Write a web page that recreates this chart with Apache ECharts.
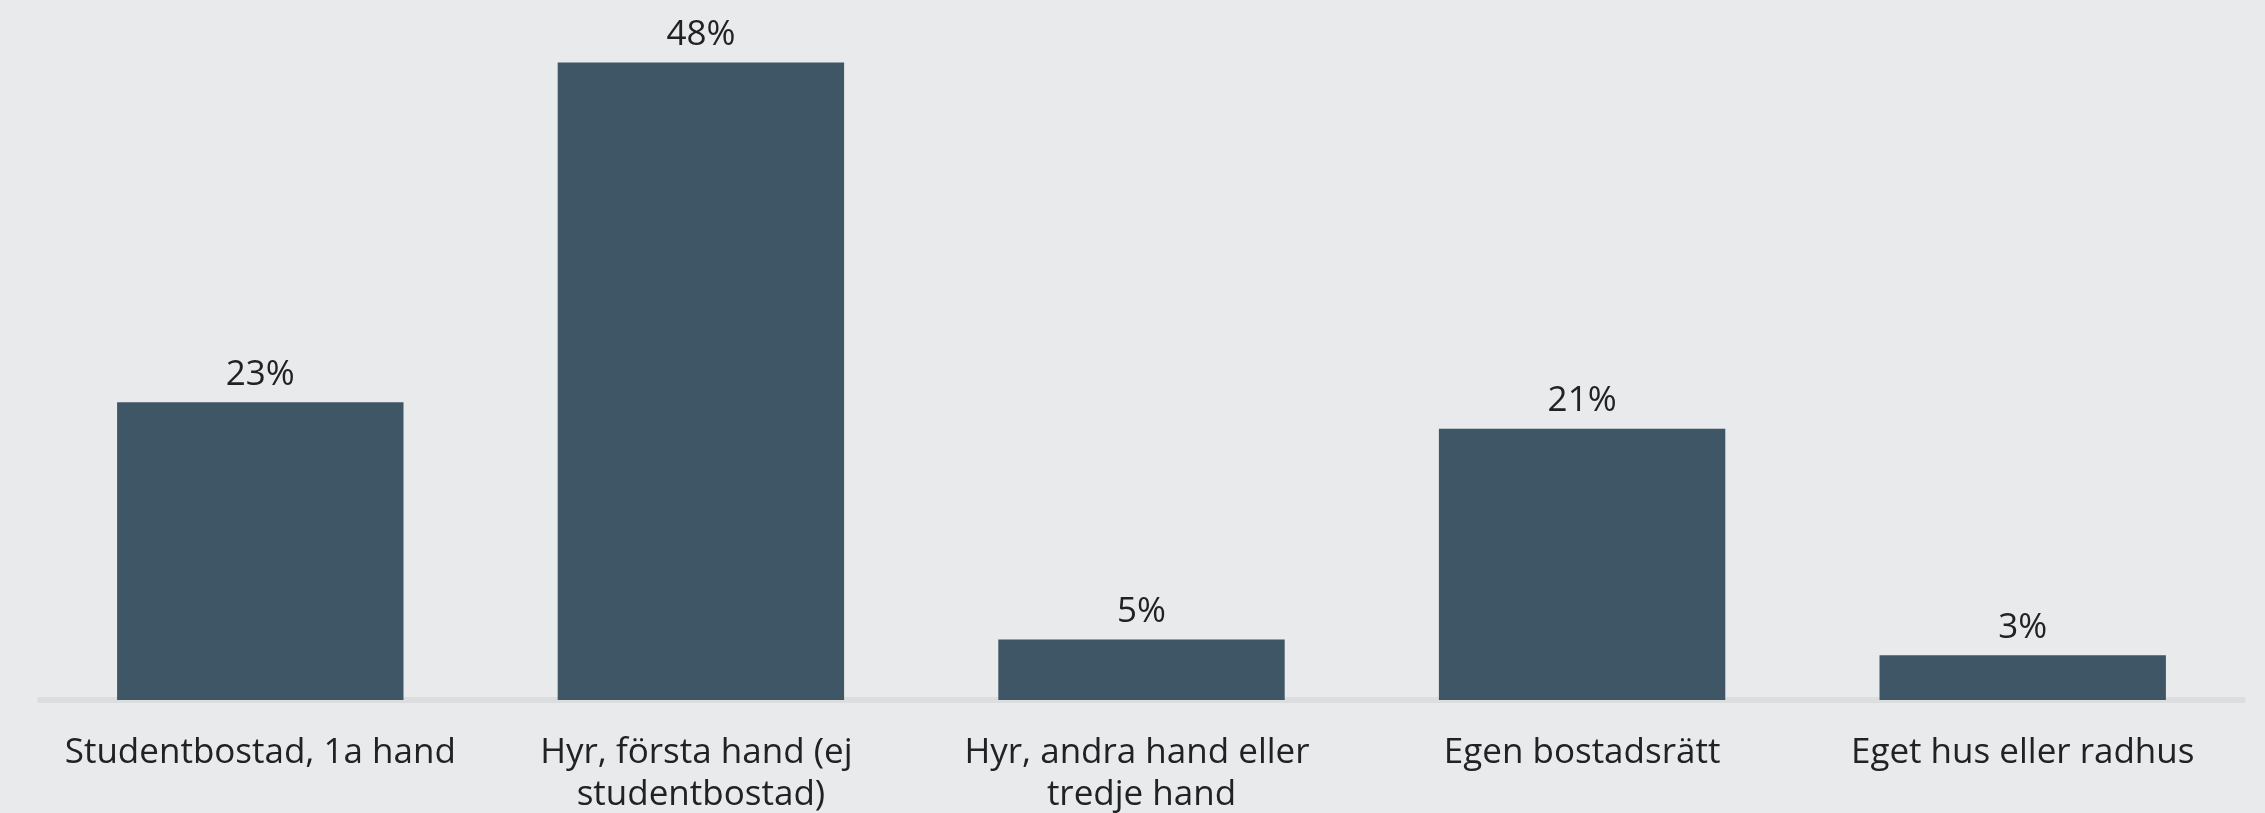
<!DOCTYPE html>
<html>
<head>
<meta charset="utf-8">
<script src="https://cdn.jsdelivr.net/npm/echarts@6/dist/echarts.min.js"></script>
<style>
  html, body { margin: 0; padding: 0; background: #e9eaec; }
  #boendeChart { width: 2265px; height: 813px; }
</style>
</head>
<body>
<div id="boendeChart"></div>
<script>
// kategorier och andelar (procent)
var categories = [
  'Studentbostad, 1a hand',
  'Hyr, första hand (ej studentbostad)',
  'Hyr, andra hand eller tredje hand',
  'Egen bostadsrätt',
  'Eget hus eller radhus'
];
var shares = [22.6, 48.4, 4.6, 20.6, 3.4];

var chart = echarts.init(document.getElementById('boendeChart'));

var options = {
  backgroundColor: '#e9eaec',
  textStyle: { fontFamily: 'Open Sans' },
  grid: {
    left: 40,
    right: 22,
    top: 41.5,
    bottom: 113,
    outerBoundsMode: 'none'
  },
  xAxis: {
    type: 'category',
    data: categories,
    offset: 3,
    axisLine: {
      show: true,
      lineStyle: { color: '#dcdddf', width: 6 }
    },
    axisTick: { show: false },
    axisLabel: {
      interval: 0,
      margin: 29,
      color: '#222222',
      fontSize: 35,
      lineHeight: 42,
      width: 420,
      overflow: 'break'
    }
  },
  yAxis: {
    type: 'value',
    min: 0,
    max: 50,
    show: false,
    splitLine: { show: false }
  },
  series: [
    {
      name: 'Andel',
      type: 'bar',
      data: shares,
      barCategoryGap: '35%',
      itemStyle: { color: '#3e5666' },
      label: {
        show: true,
        position: 'top',
        distance: 10,
        color: '#222222',
        fontSize: 35,
        formatter: function (p) {
          return Math.round(p.value) + '%';
        }
      }
    }
  ]
};

chart.setOption(options);
</script>
</body>
</html>
